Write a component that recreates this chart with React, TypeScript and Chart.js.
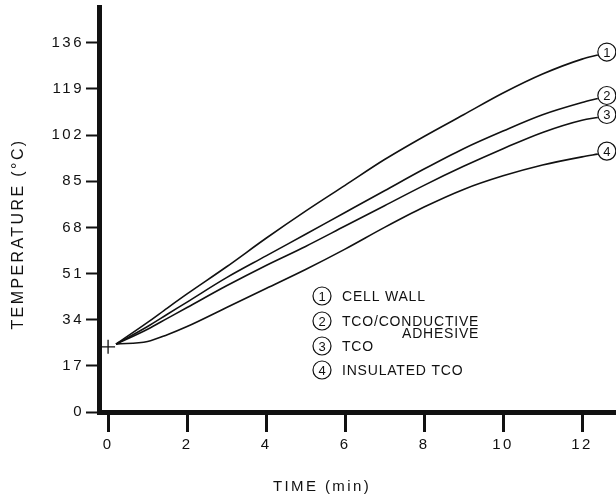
import React, { useEffect, useRef } from 'react';
import { Chart, registerables } from 'chart.js';

Chart.register(...registerables);

// ---- data ----
const times = [0.2, 1, 1.5, 2, 3, 4, 5, 6, 7, 8, 9, 10, 11, 12, 12.4];
const cellWall = [25, 33, 38.3, 43.5, 53.5, 64, 74, 83.5, 93, 101.5, 109.5, 117.5, 124.5, 130, 131.5];
const tcoConductive = [25, 31.5, 36, 40.5, 49.5, 57.5, 65.5, 73.5, 81.5, 89.5, 97, 103.5, 109.5, 114, 115.5];
const tco = [25, 30.5, 34.5, 38.5, 46.5, 54, 61, 68.5, 76, 83.5, 90.5, 97, 103, 107.5, 108.5];
const insulatedTco = [25, 26, 28.5, 31.5, 38.5, 45.5, 52.5, 60, 68, 75.5, 82, 87, 91, 94, 95];
const startTime = [0];
const startTemp = [24];

const seriesNumbers = ['1', '2', '3', '4'];
const seriesLabels = [['CELL WALL'], ['TCO/CONDUCTIVE', 'ADHESIVE'], ['TCO'], ['INSULATED TCO']];

const xTicks = [0, 2, 4, 6, 8, 10, 12];
const yTicks = [0, 17, 34, 51, 68, 85, 102, 119, 136];
const xTitle = 'TIME (min)';
const yTitle = 'TEMPERATURE (\u00B0C)';

const FONT = "'Liberation Sans', Arial, Helvetica, sans-serif";
const INK = '#111';

const toPoints = (xs: number[], ys: number[]) => xs.map((x, i) => ({ x, y: ys[i] }));

function circled(ctx: CanvasRenderingContext2D, cx: number, cy: number, txt: string) {
  ctx.save();
  (ctx as any).letterSpacing = '0px';
  ctx.beginPath();
  ctx.arc(cx, cy, 9, 0, Math.PI * 2);
  ctx.fillStyle = '#fff';
  ctx.fill();
  ctx.lineWidth = 1.2;
  ctx.strokeStyle = INK;
  ctx.stroke();
  ctx.fillStyle = INK;
  ctx.font = `13px ${FONT}`;
  ctx.textAlign = 'center';
  ctx.textBaseline = 'middle';
  ctx.fillText(txt, cx, cy + 1);
  ctx.restore();
}

const decorPlugin = {
  id: 'decor',
  beforeDraw(chart: any) {
    (chart.ctx as any).letterSpacing = '2.5px';
  },
  afterDraw(chart: any) {
    const ctx = chart.ctx as CanvasRenderingContext2D;

    // end-of-curve circled numbers
    for (let i = 0; i < 4; i++) {
      const meta = chart.getDatasetMeta(i);
      const pts = meta.data;
      const last = pts[pts.length - 1];
      circled(ctx, last.x + 9, last.y - 3, seriesNumbers[i]);
    }

    // in-plot legend
    const legendX = 322;
    const textX = 342;
    const rows = [296, 321, 346, 370];
    ctx.save();
    for (let i = 0; i < 4; i++) {
      circled(ctx, legendX, rows[i], seriesNumbers[i]);
      ctx.font = `14px ${FONT}`;
      (ctx as any).letterSpacing = '0.8px';
      ctx.fillStyle = INK;
      ctx.textBaseline = 'middle';
      ctx.textAlign = 'left';
      const lines = seriesLabels[i];
      ctx.fillText(lines[0], textX, rows[i] + 1);
      if (lines.length > 1) {
        const w = ctx.measureText(lines[0]).width;
        ctx.textAlign = 'right';
        ctx.fillText(lines[1], textX + w, rows[i] + 13);
      }
    }
    ctx.restore();

    // axis titles
    ctx.save();
    ctx.fillStyle = INK;
    ctx.font = `15px ${FONT}`;
    (ctx as any).letterSpacing = '2.4px';
    ctx.textAlign = 'center';
    ctx.textBaseline = 'middle';
    ctx.fillText(xTitle, 322, 487);
    ctx.translate(19, 234);
    ctx.rotate(-Math.PI / 2);
    ctx.font = `16px ${FONT}`;
    (ctx as any).letterSpacing = '2.4px';
    ctx.fillText(yTitle, 0, 0);
    ctx.restore();

    (ctx as any).letterSpacing = '0px';
  },
};

export default function App() {
  const ref = useRef<HTMLCanvasElement | null>(null);

  useEffect(() => {
    if (!ref.current) return;
    const lineDs = (data: number[]) => ({
      data: toPoints(times, data),
      borderColor: INK,
      borderWidth: 1.6,
      pointRadius: 0,
      fill: false,
      cubicInterpolationMode: 'monotone' as const,
    });
    const chart = new Chart(ref.current, {
      type: 'line',
      data: {
        datasets: [
          lineDs(cellWall),
          lineDs(tcoConductive),
          lineDs(tco),
          lineDs(insulatedTco),
          {
            data: toPoints(startTime, startTemp),
            showLine: false,
            pointStyle: 'cross',
            pointRadius: 7,
            pointBorderWidth: 1.3,
            pointBorderColor: INK,
            borderColor: INK,
          } as any,
        ],
      },
      options: {
        animation: false,
        responsive: true,
        maintainAspectRatio: false,
        layout: { autoPadding: false, padding: { top: 7, right: 0, left: 0, bottom: 0 } },
        plugins: { legend: { display: false }, tooltip: { enabled: false } },
        events: [],
        scales: {
          x: {
            type: 'linear',
            min: -0.23,
            max: 12.86,
            afterFit: (s: any) => {
              s.height = 89;
              s.paddingLeft = 0;
              s.paddingRight = 0;
            },
            afterBuildTicks: (s: any) => { s.ticks = xTicks.map((v) => ({ value: v })); },
            grid: {
              display: true,
              drawOnChartArea: false,
              drawTicks: true,
              tickLength: 20,
              tickWidth: 3,
              tickColor: INK,
            },
            border: { display: true, width: 5, color: INK },
            ticks: {
              color: INK,
              padding: 4,
              maxRotation: 0,
              autoSkip: false,
              font: { family: FONT, size: 15 },
            },
          },
          y: {
            type: 'linear',
            min: 0,
            max: 149.2,
            afterFit: (s: any) => {
              s.width = 99;
              s.paddingTop = 0;
              s.paddingBottom = 0;
            },
            afterBuildTicks: (s: any) => { s.ticks = yTicks.map((v) => ({ value: v })); },
            grid: {
              display: true,
              drawOnChartArea: false,
              drawTicks: true,
              tickLength: 13,
              tickWidth: 2,
              tickColor: INK,
            },
            border: { display: true, width: 5, color: INK },
            ticks: {
              color: INK,
              padding: 2,
              autoSkip: false,
              font: { family: FONT, size: 15 },
            },
          },
        },
      },
      plugins: [decorPlugin],
    });
    return () => chart.destroy();
  }, []);

  return (
    <div style={{ position: 'fixed', left: 0, top: 0, width: 616, height: 501, background: '#fff' }}>
      <canvas ref={ref} />
    </div>
  );
}
